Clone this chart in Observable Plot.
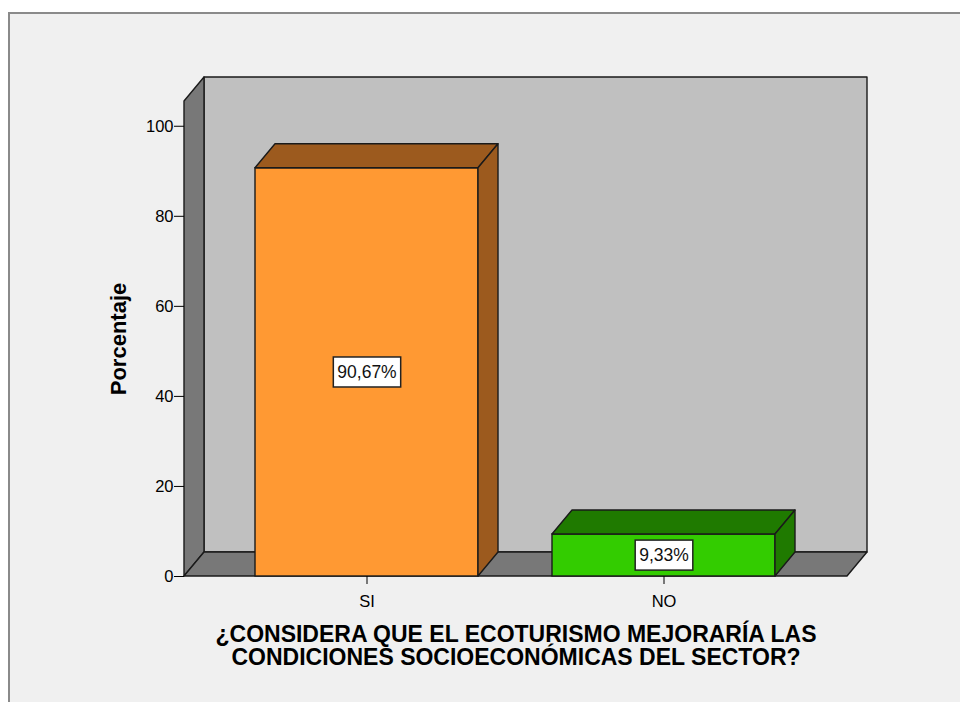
<!DOCTYPE html>
<html>
<head>
<meta charset="utf-8">
<script src="https://cdn.jsdelivr.net/npm/d3@7"></script>
<script src="https://cdn.jsdelivr.net/npm/@observablehq/plot@0.6"></script>
<style>
  html, body { margin: 0; padding: 0; background: #ffffff; overflow: hidden; width: 960px; height: 702px; }
  #frame { position: absolute; left: 8px; top: 12px; width: 960px; height: 700px;
           border-left: 2px solid #8a8a8a; border-top: 2px solid #8a8a8a; background: #f0f0f0; }
  #chart { position: absolute; left: 0; top: 0; }
</style>
</head>
<body>
<div id="frame"></div>
<div id="chart"></div>
<script>
// ---- data ----
const categories = ["SI", "NO"];
const percentages = [90.67, 9.33];
const valueLabels = ["90,67%", "9,33%"];
const yTicks = [0, 20, 40, 60, 80, 100];
const yTitle = "Porcentaje";
const xTitle = "¿CONSIDERA QUE EL ECOTURISMO MEJORARÍA LAS\nCONDICIONES SOCIOECONÓMICAS DEL SECTOR?";

// ---- styles ----
const frontColors = ["#ff9933", "#33cc00"];
const darkColors = ["#9c5a1e", "#1f7a00"];
const DX = 20, DY = 24;          // 3D depth offset in pixels
const EDGE = "#1a1a1a";

const rows = categories.map((c, i) => ({cat: c, value: percentages[i], label: valueLabels[i]}));

function poly(g, pts, fill) {
  g.append("path")
    .attr("d", "M" + pts.map(p => p.join(",")).join("L") + "Z")
    .attr("fill", fill)
    .attr("stroke", EDGE)
    .attr("stroke-width", 1.4)
    .attr("stroke-linejoin", "round");
}

// back wall, left side wall and floor, from the plot's scales
function walls(index, scales) {
  const {x, y} = scales;
  const [x0, x1] = x.range();
  const yb = y(0), yt = y(y.domain()[1]);
  const g = d3.create("svg:g");
  poly(g, [[x0 + DX, yt - DY], [x1 + DX, yt - DY], [x1 + DX, yb - DY], [x0 + DX, yb - DY]], "#c0c0c0");
  poly(g, [[x0, yt], [x0 + DX, yt - DY], [x0 + DX, yb - DY], [x0, yb]], "#787878");
  poly(g, [[x0, yb], [x0 + DX, yb - DY], [x1 + DX, yb - DY], [x1, yb]], "#787878");
  return g.node();
}

// top and right side faces of each bar
function barFaces(index, scales) {
  const {x, y} = scales;
  const bw = x.bandwidth();
  const g = d3.create("svg:g");
  const yb = y(0);
  categories.forEach((c, i) => {
    const bx0 = x(c), bx1 = bx0 + bw, yt = y(percentages[i]);
    poly(g, [[bx0, yt], [bx0 + DX, yt - DY], [bx1 + DX, yt - DY], [bx1, yt]], darkColors[i]);
    poly(g, [[bx1, yt], [bx1 + DX, yt - DY], [bx1 + DX, yb - DY], [bx1, yb]], darkColors[i]);
  });
  return g.node();
}

const chart = Plot.plot({
  width: 960,
  height: 702,
  marginLeft: 184,
  marginRight: 113,
  marginTop: 101,
  marginBottom: 126,
  style: {background: "transparent", fontFamily: "'Liberation Sans', Arial, sans-serif", color: "#000", overflow: "visible"},
  x: {domain: categories, paddingInner: 0.249, paddingOuter: 0.2388},
  y: {domain: [0, 105.5]},
  color: {domain: categories, range: frontColors},
  marks: [
    walls,
    Plot.barY(rows, {x: "cat", y: "value", fill: "cat", stroke: EDGE, strokeWidth: 1.4}),
    barFaces,
    Plot.axisY({ticks: yTicks, tickSize: 10, tickPadding: 1, fontSize: 16.5, label: null, tickFormat: d => d}),
    Plot.axisX({tickSize: 8, tickPadding: 11, fontSize: 16.5, label: null}),
    Plot.text(rows, {x: "cat", y: d => d.value / 2, text: "label", fontSize: 17.5, fill: "#111", ariaDescription: "bar-labels"}),
    Plot.text([yTitle], {frameAnchor: "left", dx: -66, rotate: -90, textAnchor: "middle", fontSize: 22, fontWeight: "bold", fill: "#000"}),
    Plot.text([xTitle], {frameAnchor: "bottom", dy: 70, textAnchor: "middle", lineAnchor: "middle", fontSize: 23, fontWeight: "bold", lineHeight: 1.0, fill: "#000"})
  ]
});

document.getElementById("chart").append(chart);

// white boxes behind the value labels
d3.select(chart).selectAll('g[aria-description="bar-labels"] text').each(function () {
  const b = this.getBBox();
  const padX = 4, padY = 5;
  d3.select(this.parentNode).insert("rect", () => this)
    .attr("x", b.x - padX).attr("y", b.y - padY)
    .attr("width", b.width + 2 * padX).attr("height", b.height + 2 * padY)
    .attr("transform", this.getAttribute("transform"))
    .attr("fill", "#ffffff").attr("stroke", "#222").attr("stroke-width", 1.5);
});
</script>
</body>
</html>
